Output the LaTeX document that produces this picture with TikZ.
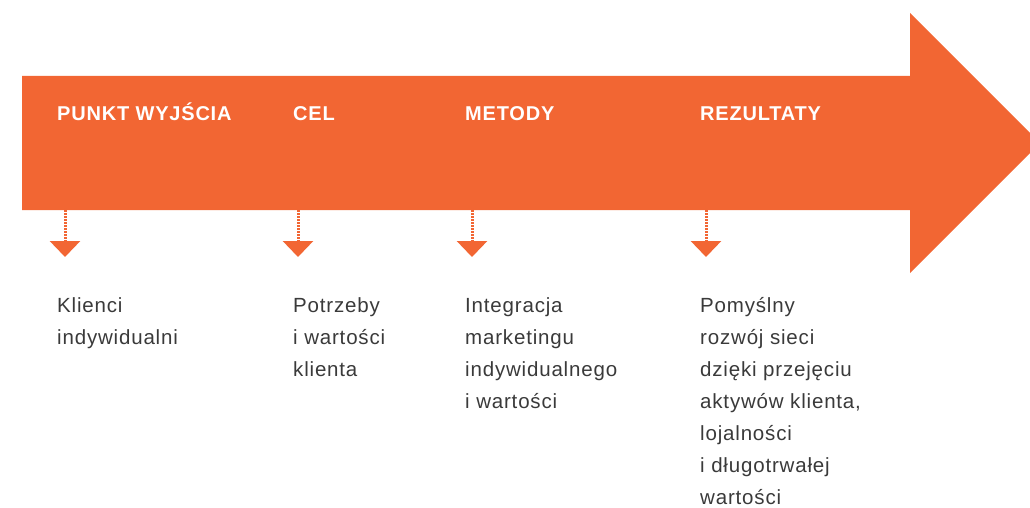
\documentclass[tikz,border=0pt]{standalone}
\usepackage{fontspec}
\setmainfont{Liberation Sans}
\usetikzlibrary{arrows.meta}
\definecolor{orng}{HTML}{F26633}
\definecolor{txtgray}{HTML}{3A3A3A}

\begin{document}
\begin{tikzpicture}[x=1pt, y=-1pt,
    hdr/.style={anchor=base west, inner sep=0pt, text=white,
      font=\fontsize{20}{24}\selectfont\bfseries\addfontfeatures{LetterSpace=4}},
    txt/.style={anchor=base west, inner sep=0pt, text=txtgray,
      font=\fontsize{20.5}{32}\selectfont\addfontfeatures{LetterSpace=4}},
    pointer/.style={orng, line width=3pt, dash pattern=on 1.5pt off 1.5pt,
      -{Triangle[width=30pt,length=16pt]}}]
  \useasboundingbox (0,0) rectangle (1030,508);
  \clip (0,0) rectangle (1030,508);
  % timeline arrow
  \fill[orng] (22,76) -- (910,76) -- (910,13) -- (1040,143) -- (910,273)
    -- (910,210) -- (22,210) -- cycle;
  % stages
  \foreach \n/\x/\ax/\head/\body in {
      1/57/65/{PUNKT WYJŚCIA}/{Klienci\\indywidualni},
      2/293/298/{CEL}/{Potrzeby\\i wartości\\klienta},
      3/465/472/{METODY}/{Integracja\\marketingu\\indywidualnego\\i wartości},
      4/700/706/{REZULTATY}/{Pomyślny\\rozwój sieci\\dzięki przejęciu\\aktywów klienta,\\lojalności\\i długotrwałej\\wartości}} {
    \node[hdr] (h\n) at (\x,121) {\head};
    \coordinate (s\n) at (\ax,210);
    \coordinate (e\n) at (\ax,257);
    \draw[pointer] (s\n) -- (e\n);
    \node[txt] (t\n) at (\x,312) {\begin{tabular}[t]{@{}l@{}}\body\end{tabular}};
  }
\end{tikzpicture}
\end{document}
